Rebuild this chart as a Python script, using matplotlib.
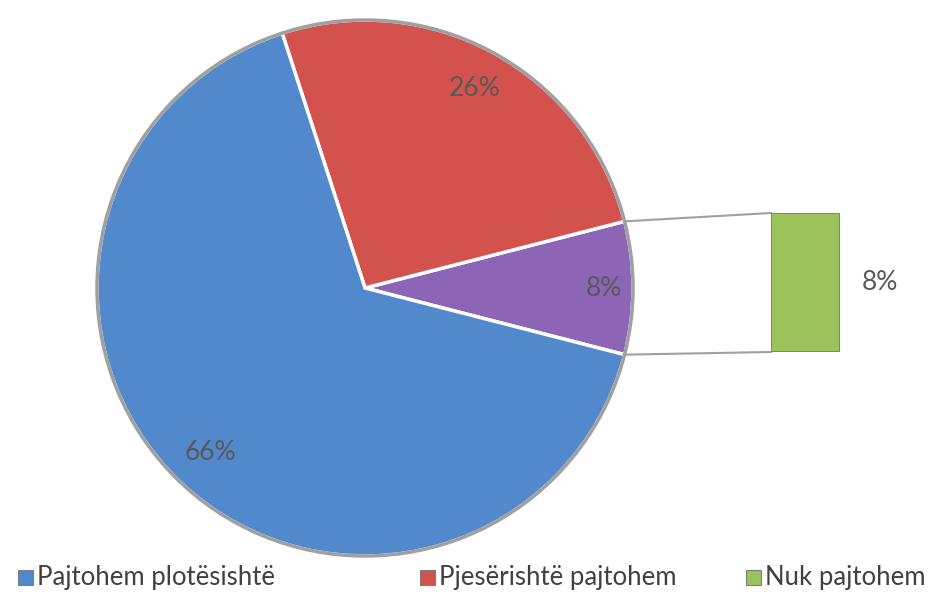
import numpy as np
import matplotlib.pyplot as plt
from matplotlib.patches import Rectangle, Circle

# data (bar-of-pie)
categories = ["Pajtohem plotësishtë", "Pjesërishtë pajtohem", "Nuk pajtohem"]
shares = [66, 26, 8]
pie_labels = ["66%", "26%", "8%"]
bar_label = "8%"

pie_colors = ["#5189cc", "#d4524e", "#8c65b6"]   # last slice = "other" group
bar_color = "#9cc25c"
legend_colors = ["#5189cc", "#d4524e", "#9cc25c"]
text_gray = "#595959"

plt.rcParams['font.family'] = ['Lato', 'DejaVu Sans']

fig = plt.figure(figsize=(9.32, 6.0), dpi=100)
ax = fig.add_axes([0, 0, 1, 1])

cx, cy, r = 365, 312, 268

# pie drawn counterclockwise: other slice centred on 0 deg, then red, then blue
order = [2, 1, 0]
vals = [shares[i] for i in order]
cols = [pie_colors[i] for i in order]
start = -vals[0] * 3.6 / 2
wedges, _ = ax.pie(vals, colors=cols, startangle=start, center=(cx, cy), radius=r,
                   counterclock=True, frame=True,
                   wedgeprops=dict(edgecolor='white', linewidth=2.5))
ax.set_xlim(0, 932)
ax.set_ylim(0, 600)
ax.set_aspect('equal')
ax.axis('off')
ax.add_patch(Circle((cx, cy), r, fill=False, edgecolor='#a0a0a0', linewidth=2.5, zorder=3))

# slice labels
label_dist = [0.89, 0.85, 0.84]
for w, i, d in zip(wedges, order, label_dist):
    mid = np.deg2rad((w.theta1 + w.theta2) / 2)
    ax.text(cx + d * r * np.cos(mid), cy + d * r * np.sin(mid), pie_labels[i],
            ha='center', va='center', fontsize=19, color=text_gray, zorder=4)

# bar of the "other" slice
bx0, by0, bw, bh = 771 / 932, 248 / 600, 69 / 932, 139 / 600
axb = fig.add_axes([bx0, by0, bw, bh])
axb.bar(0, shares[2], width=1, color=bar_color, edgecolor='#6f8f3a', linewidth=1.2)
axb.set_xlim(-0.5, 0.5)
axb.set_ylim(0, shares[2])
axb.axis('off')
ax.text(bx0 * 932 + bw * 932 + 40, (by0 + bh / 2) * 600, bar_label,
        ha='center', va='center', fontsize=19, color=text_gray)

# connector lines from the other slice to the bar
ow = wedges[0]
for ang, yb in [(ow.theta2, (by0 + bh) * 600), (ow.theta1, by0 * 600)]:
    a = np.deg2rad(ang)
    ax.plot([cx + r * np.cos(a), bx0 * 932], [cy + r * np.sin(a), yb],
            color='#a0a0a0', linewidth=1.5, zorder=2)

# legend
leg_x = [18, 420, 746]
for x, c, name in zip(leg_x, legend_colors, categories):
    ax.add_patch(Rectangle((x, 15), 15, 15, facecolor=c, edgecolor='#7f7f7f', linewidth=0.8))
    ax.text(x + 19, 22, name, ha='left', va='center', fontsize=18.5, color='#404040')

fig.savefig('out.png', dpi=100)
